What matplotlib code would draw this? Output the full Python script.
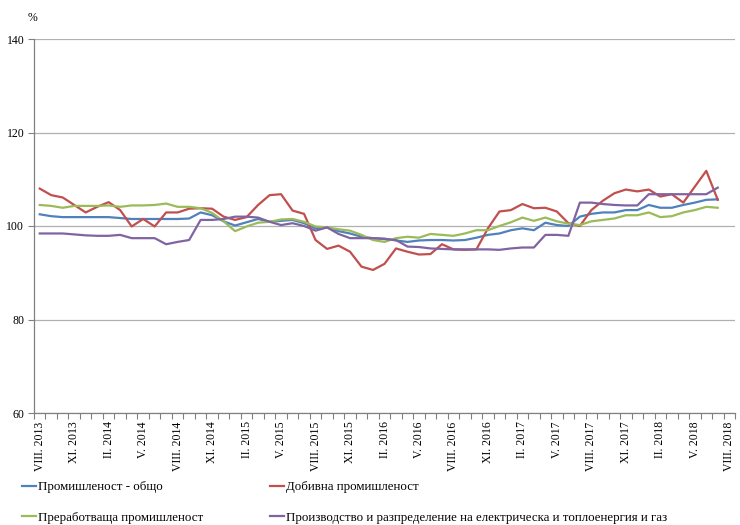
import numpy as np
import matplotlib
matplotlib.use("Agg")
import matplotlib.pyplot as plt

nan = np.nan
roman = ["I", "II", "III", "IV", "V", "VI", "VII", "VIII", "IX", "X", "XI", "XII"]
# categories: VIII.2013 ... VIII.2018 (61 months)
months = []
m, y = 8, 2013
for _ in range(61):
    months.append(f"{roman[m-1]}. {y}")
    m += 1
    if m > 12:
        m, y = 1, y + 1

total = [102.5, 102.1, 101.9, 101.9, 101.9, 101.9, 101.9, 101.7, 101.5, 101.5,
         101.5, 101.5, 101.5, 101.6, 102.9, 102.3, 101.0, 100.1, 100.8, 101.5,
         100.9, 101.1, 101.3, 100.6, 99.5, 99.7, 98.9, 98.4, 97.7, 97.4,
         97.3, 96.9, 96.6, 96.9, 97.0, 97.0, 96.9, 97.0, 97.5, 98.1,
         98.4, 99.1, 99.5, 99.1, 100.7, 100.2, 100.0, 102.0, 102.6, 102.9,
         102.9, 103.4, 103.4, 104.5, 103.9, 103.9, 104.5, 105.0, 105.6, 105.7, nan]

mining = [108.0, 106.6, 106.1, 104.5, 102.9, 104.1, 105.1, 103.4, 99.9, 101.5,
          99.9, 102.9, 102.9, 103.7, 103.8, 103.7, 102.0, 101.3, 101.9, 104.5,
          106.6, 106.8, 103.3, 102.6, 97.0, 95.1, 95.8, 94.5, 91.3, 90.6,
          91.9, 95.2, 94.5, 93.9, 94.0, 96.1, 95.0, 94.9, 95.0, 99.5,
          103.1, 103.4, 104.7, 103.8, 103.9, 103.1, 100.6, 100.0, 103.4, 105.4,
          107.0, 107.8, 107.4, 107.8, 106.3, 106.8, 105.0, 108.4, 111.8, 105.6, nan]

manufacturing = [104.5, 104.3, 103.9, 104.3, 104.3, 104.3, 104.4, 104.1, 104.4, 104.4,
                 104.5, 104.8, 104.1, 104.1, 103.8, 102.8, 101.0, 98.9, 99.9, 100.7,
                 100.9, 101.4, 101.5, 100.9, 99.9, 99.7, 99.3, 99.0, 98.1, 97.0,
                 96.6, 97.4, 97.7, 97.5, 98.3, 98.1, 97.9, 98.4, 99.1, 99.1,
                 100.0, 100.8, 101.8, 101.1, 101.8, 101.0, 100.5, 100.2, 101.0, 101.3,
                 101.6, 102.3, 102.3, 102.9, 101.9, 102.1, 102.9, 103.4, 104.1, 103.9, nan]

energy = [98.4, 98.4, 98.4, 98.2, 98.0, 97.9, 97.9, 98.1, 97.4, 97.4,
          97.4, 96.1, 96.6, 97.0, 101.3, 101.3, 101.5, 102.0, 102.0, 101.8,
          100.9, 100.2, 100.6, 100.0, 99.0, 99.7, 98.3, 97.4, 97.4, 97.4,
          97.2, 97.0, 95.6, 95.5, 95.2, 95.1, 95.0, 95.0, 95.0, 95.0,
          94.9, 95.2, 95.4, 95.4, 98.1, 98.1, 97.9, 105.0, 105.0, 104.7,
          104.5, 104.4, 104.4, 106.8, 106.8, 106.8, 106.8, 106.8, 106.8, 108.2, nan]

labels = ["Промишленост - общо", "Добивна промишленост",
          "Преработваща промишленост",
          "Производство и разпределение на електрическа и топлоенергия и газ"]
colors = ["#4F81BD", "#C0504D", "#9BBB59", "#8064A2"]
yticks = [60, 80, 100, 120, 140]

serif = "Liberation Serif"
fig = plt.figure(figsize=(7.4, 5.25), dpi=100)
ax = fig.add_axes([34/740, 1 - 413/525, 701/740, 374/525])

x = np.arange(len(months))
series = [total, mining, manufacturing, energy]
handles = []
for s, c, lab in zip(series, colors, labels):
    h, = ax.plot(x, s, color=c, lw=1.6, label=lab, solid_joinstyle="round")
    handles.append(h)

ax.set_xlim(-0.5, len(months) - 0.5)
ax.set_ylim(60, 140)
ax.set_yticks(yticks)
ax.set_yticklabels([str(v) for v in yticks], fontfamily=serif, fontsize=8.5)
ax.yaxis.grid(True, color="#b0b0b0", lw=0.9)
ax.set_axisbelow(True)

ax.set_xticks(x[::3])
ax.set_xticklabels(months[::3], rotation=90, fontfamily=serif, fontsize=8.5)
ax.set_xticks(np.arange(-0.5, len(months), 1), minor=True)
ax.tick_params(axis="x", which="major", length=0, pad=6)
ax.tick_params(axis="x", which="minor", length=4, width=0.8, color="#808080", direction="out")
ax.tick_params(axis="y", which="major", length=4, width=0.8, color="#808080", direction="out", pad=3)

for sp in ["top", "right"]:
    ax.spines[sp].set_visible(False)
for sp in ["left", "bottom"]:
    ax.spines[sp].set_color("#808080")
    ax.spines[sp].set_linewidth(0.9)

fig.text(28/740, 1 - 18/525, "%", fontfamily=serif, fontsize=8.5, ha="left", va="center")

leg_kw = dict(frameon=False, prop={"family": serif, "size": 9.3}, handlelength=1.1,
              handletextpad=0.1, labelspacing=1.45, borderaxespad=0, borderpad=0)
fig.legend([handles[0], handles[2]], [labels[0], labels[2]],
           loc="upper left", bbox_to_anchor=(22/740, 1 - 481/525), **leg_kw)
fig.legend([handles[1], handles[3]], [labels[1], labels[3]],
           loc="upper left", bbox_to_anchor=(270/740, 1 - 481/525), **leg_kw)

fig.savefig("out.png", dpi=100)
